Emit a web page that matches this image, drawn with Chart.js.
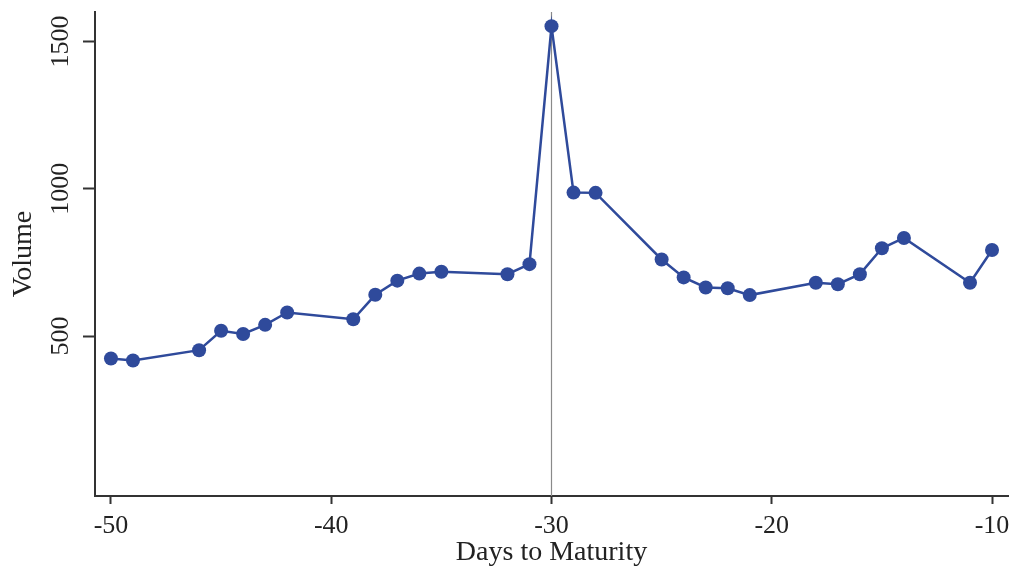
<!DOCTYPE html>
<html>
<head>
<meta charset="utf-8">
<script src="https://cdn.jsdelivr.net/npm/chart.js@4/dist/chart.umd.min.js"></script>
<style>
  html, body { margin: 0; padding: 0; background: #ffffff; }
  #wrap { width: 1015px; height: 570px; }
</style>
</head>
<body>
<div id="wrap"><canvas id="c" width="1015" height="570"></canvas></div>
<script>
// ---- Data ----
const days = [-50, -49, -46, -45, -44, -43, -42, -39, -38, -37, -36, -35, -32, -31, -30, -29, -28, -25, -24, -23, -22, -21, -18, -17, -16, -15, -14, -11, -10];
const volume = [424, 417, 452, 518, 507, 538, 580, 557, 640, 688, 712, 718, 710, 744, 1552, 987, 986, 760, 699, 665, 662, 639, 681, 676, 710, 798, 833, 681, 792];
const xTicks = [-50, -40, -30, -20, -10];
const yTicks = [500, 1000, 1500];
const markerDay = -30;
const xTitle = 'Days to Maturity';
const yTitle = 'Volume';

const X_MIN = -50.725, X_MAX = -9.275;
const Y_MIN = -43, Y_MAX = 1600;

const FONT = '"Liberation Serif", "Times New Roman", serif';
const BLUE = '#2f4a9b';
const AXIS = '#333333';

const points = days.map((d, i) => ({ x: d, y: volume[i] }));
const vline = [{ x: markerDay, y: Y_MIN }, { x: markerDay, y: Y_MAX }];

new Chart(document.getElementById('c'), {
  type: 'scatter',
  data: {
    datasets: [
      {
        data: vline,
        showLine: true,
        borderColor: '#8a8a8a',
        borderWidth: 1.2,
        pointRadius: 0,
        order: 2
      },
      {
        data: points,
        showLine: true,
        borderColor: BLUE,
        borderWidth: 2.5,
        backgroundColor: BLUE,
        pointBackgroundColor: BLUE,
        pointBorderColor: BLUE,
        pointRadius: 7,
        pointBorderWidth: 0,
        pointHoverRadius: 7,
        order: 1
      }
    ]
  },
  options: {
    responsive: false,
    animation: false,
    events: [],
    layout: { padding: { top: 12, right: 3, left: 0, bottom: 0 } },
    plugins: {
      legend: { display: false },
      tooltip: { enabled: false }
    },
    scales: {
      x: {
        type: 'linear',
        min: X_MIN,
        max: X_MAX,
        afterBuildTicks: (s) => { s.ticks = xTicks.map(v => ({ value: v })); },
        afterFit: (s) => { s.height = 74; s.paddingLeft = 0; s.paddingRight = 0; },
        grid: { display: true, drawOnChartArea: false, drawTicks: true, tickLength: 8, tickWidth: 2, tickColor: AXIS },
        border: { display: true, color: AXIS, width: 2 },
        ticks: {
          color: '#222',
          font: { family: FONT, size: 26 },
          padding: 7,
          maxRotation: 0,
          minRotation: 0,
          autoSkip: false,
          callback: (v) => String(v)
        },
        title: {
          display: true,
          text: xTitle,
          color: '#222',
          font: { family: FONT, size: 28 },
          padding: { top: 0, bottom: 1 }
        }
      },
      y: {
        type: 'linear',
        min: Y_MIN,
        max: Y_MAX,
        afterBuildTicks: (s) => { s.ticks = yTicks.map(v => ({ value: v })); },
        afterFit: (s) => { s.width = 95; s.paddingTop = 0; s.paddingBottom = 0; },
        grid: { display: true, drawOnChartArea: false, drawTicks: true, tickLength: 12, tickWidth: 2, tickColor: AXIS },
        border: { display: true, color: AXIS, width: 2 },
        ticks: {
          color: '#222',
          font: { family: FONT, size: 26 },
          minRotation: 90,
          maxRotation: 90,
          crossAlign: 'center',
          padding: -4.5,
          autoSkip: false,
          callback: (v) => String(v)
        },
        title: {
          display: true,
          text: yTitle,
          color: '#222',
          font: { family: FONT, size: 28 },
          padding: { top: 7, bottom: 0 }
        }
      }
    }
  }
});
</script>
</body>
</html>
